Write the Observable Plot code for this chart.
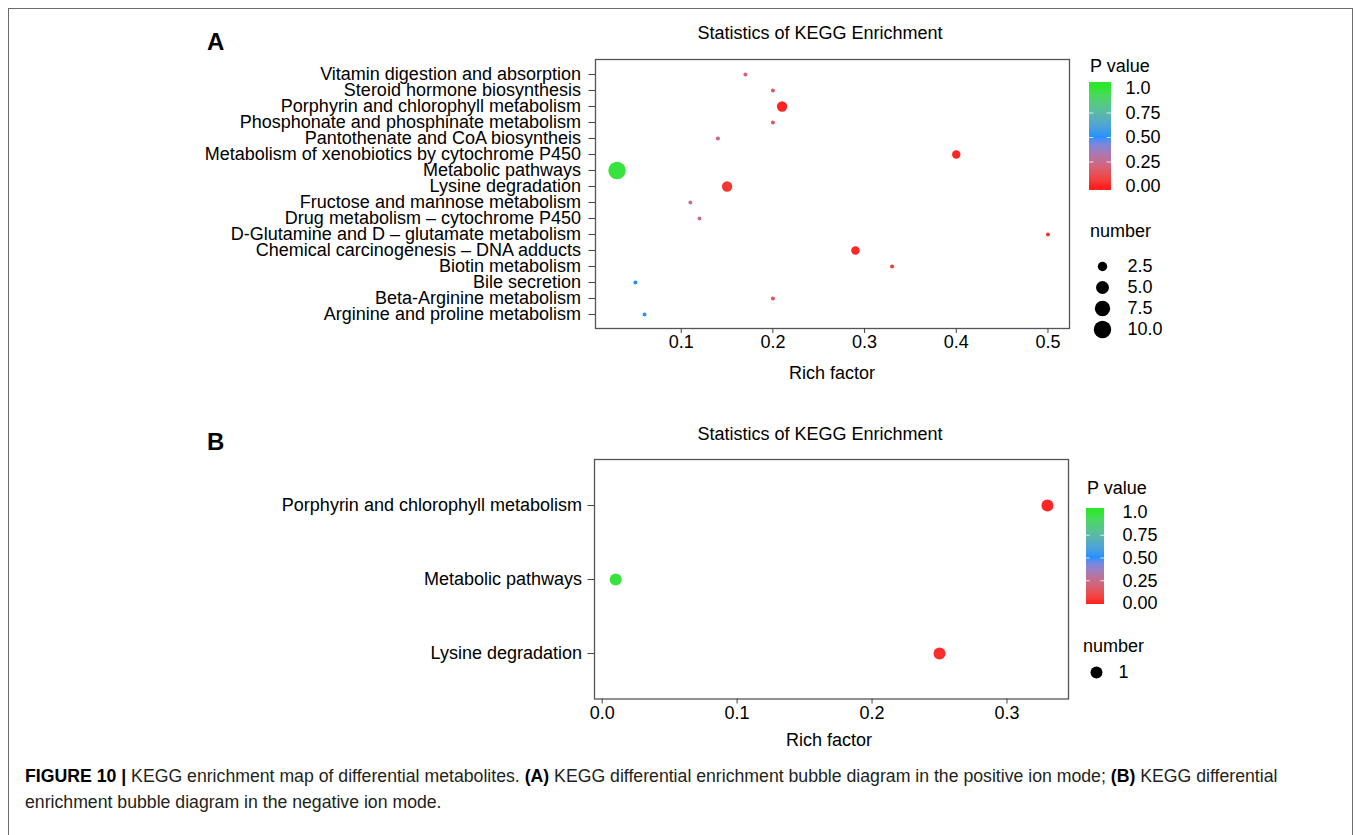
<!DOCTYPE html>
<html><head><meta charset="utf-8">
<script src="https://cdn.jsdelivr.net/npm/d3@7"></script>
<script src="https://cdn.jsdelivr.net/npm/@observablehq/plot@0.6"></script>
<style>
html,body{margin:0;padding:0;background:#fff;}
#page{position:relative;width:1355px;height:835px;overflow:hidden;font-family:"Liberation Sans",Arial,sans-serif;color:#000;}
.abs{position:absolute;white-space:nowrap;line-height:1;}
#frame{position:absolute;left:8px;top:8px;width:1345px;height:900px;border:1.5px solid #6b6b6b;box-sizing:border-box;pointer-events:none;}
#page svg{position:absolute;}
</style></head><body><div id="page"></div>
<script>
// ---------- data ----------
const categoriesA = [
  "Vitamin digestion and absorption",
  "Steroid hormone biosynthesis",
  "Porphyrin and chlorophyll metabolism",
  "Phosphonate and phosphinate metabolism",
  "Pantothenate and CoA biosyntheis",
  "Metabolism of xenobiotics by cytochrome P450",
  "Metabolic pathways",
  "Lysine degradation",
  "Fructose and mannose metabolism",
  "Drug metabolism \u2013 cytochrome P450",
  "D-Glutamine and D \u2013 glutamate metabolism",
  "Chemical carcinogenesis \u2013 DNA adducts",
  "Biotin metabolism",
  "Bile secretion",
  "Beta-Arginine metabolism",
  "Arginine and proline metabolism"
];
const richA   = [0.17, 0.20, 0.21, 0.20, 0.14, 0.40, 0.03, 0.15, 0.11, 0.12, 0.50, 0.29, 0.33, 0.05, 0.20, 0.06];
const pValueA = [0.20, 0.15, 0.01, 0.15, 0.22, 0.01, 0.98, 0.04, 0.30, 0.27, 0.03, 0.01, 0.06, 0.50, 0.12, 0.52];
const numberA = [1, 1, 3, 1, 1, 2, 10, 3, 1, 1, 1, 2, 1, 1, 1, 1];

const categoriesB = ["Porphyrin and chlorophyll metabolism", "Metabolic pathways", "Lysine degradation"];
const richB   = [0.33, 0.01, 0.25];
const pValueB = [0.01, 0.98, 0.02];
const numberB = [1, 1, 1];

const xTicksA = [0.1, 0.2, 0.3, 0.4, 0.5];
const xTicksB = [0.0, 0.1, 0.2, 0.3];
const pBreaks = [0, 0.25, 0.5, 0.75, 1.0];
const pLabels = ["0.00", "0.25", "0.50", "0.75", "1.0"];
const sizeBreaksA = [2.5, 5.0, 7.5, 10.0];
const sizeLabelsA = ["2.5", "5.0", "7.5", "10.0"];
const sizeBreaksB = [1];
const sizeLabelsB = ["1"];

const titleText = "Statistics of KEGG Enrichment";
const xLabel = "Rich factor";

// ---------- styling ----------
const FONT = "Liberation Sans, Arial, sans-serif";
const colorOpts = {type: "linear", domain: [0, 0.5, 1], range: ["#ff1f1f", "#1e90ff", "#2ee62e"], interpolate: "lab", clamp: true};
const rOptsA = {type: "linear", transform: n => Math.sqrt(Math.max(0, n - 1) / 9), domain: [0, 1], range: [2.0, 8.7]};
const rOptsB = {type: "linear", domain: [0, 1], range: [0, 6]};

const page = document.getElementById("page");

function addText(txt, x, y, {size = 18, weight = "normal", anchor = "start", color = "#000"} = {}) {
  const d = document.createElement("div");
  d.className = "abs";
  d.textContent = txt;
  d.style.left = x + "px";
  d.style.top = y + "px";
  d.style.fontSize = size + "px";
  d.style.fontWeight = weight;
  d.style.color = color;
  d.style.transform = anchor === "middle" ? "translate(-50%,-50%)" : "translate(0,-50%)";
  page.appendChild(d);
  return d;
}

function place(svg, left, top) {
  svg.style.left = left + "px";
  svg.style.top = top + "px";
  svg.style.background = "transparent";
  svg.style.maxWidth = "none";
  svg.style.overflow = "visible";
  page.appendChild(svg);
}

function panel({cats, rich, p, num, top, width, height, mt, mb, ml, mr, xDomain, xTicks, rOpts, fontSize, tickPadY}) {
  const data = cats.map((c, i) => ({cat: c, rich: rich[i], p: p[i], n: num[i]}));
  const chart = Plot.plot({
    width, height, marginTop: mt, marginBottom: mb, marginLeft: ml, marginRight: mr,
    style: {fontFamily: FONT, fontSize: fontSize + "px", color: "#000", background: "transparent"},
    x: {domain: xDomain},
    y: {type: "point", domain: cats, padding: 0.6},
    color: colorOpts,
    r: rOpts,
    marks: [
      Plot.frame({stroke: "#555", strokeWidth: 1.3}),
      Plot.axisY({tickSize: 6.5, tickPadding: tickPadY, fontSize, label: null, stroke: "#444", fill: "#000"}),
      Plot.axisX({ticks: xTicks, tickFormat: d3.format(".1f"), tickSize: 5, tickPadding: 2, fontSize, label: null, stroke: "#444", fill: "#000"}),
      Plot.dot(data, {x: "rich", y: "cat", r: "n", fill: "p"})
    ]
  });
  place(chart, 0, top);
}

function colorbar({left, top, w, h, y0, y1, labelDx, fontSize}) {
  const v = px => (px - y0) / (y1 - y0);
  const vBottom = v(h), vTop = v(0);
  const n = Math.round(h);
  const bins = d3.range(n).map(i => ({a: vBottom + (vTop - vBottom) * i / n, b: vBottom + (vTop - vBottom) * (i + 1.2) / n}));
  const inner = pBreaks.slice(1, -1);
  const chart = Plot.plot({
    width: w + 70, height: h, marginTop: 0, marginBottom: 0, marginLeft: 0, marginRight: 70,
    style: {fontFamily: FONT, fontSize: fontSize + "px", color: "#000", background: "transparent"},
    x: {domain: [0, 1], range: [0, w], axis: null},
    y: {domain: [0, 1], range: [y0, y1], axis: null},
    color: colorOpts,
    marks: [
      Plot.rect(bins, {x1: 0, x2: 1, y1: "a", y2: "b", fill: d => (d.a + d.b) / 2, shapeRendering: "crispEdges"}),
      Plot.ruleY(inner, {x1: 0, x2: 0.2, stroke: "white", strokeOpacity: 0.8}),
      Plot.ruleY(inner, {x1: 0.8, x2: 1, stroke: "white", strokeOpacity: 0.8}),
      Plot.text(pBreaks, {x: 1, y: d => d, text: (d, i) => pLabels[i], textAnchor: "start", dx: labelDx, fontSize, fill: "#000"})
    ]
  });
  place(chart, left, top);
}

function sizeLegend({left, top, breaks, labels, yA, yB, xDot, labelDx, rOpts, fontSize}) {
  const chart = Plot.plot({
    width: 120, height: Math.max(yA, yB) + 20, marginTop: 0, marginBottom: 0, marginLeft: 0, marginRight: 0,
    style: {fontFamily: FONT, fontSize: fontSize + "px", color: "#000", background: "transparent"},
    x: {domain: [0, 1], range: [xDot, xDot + 10], axis: null},
    y: {type: "point", domain: breaks, range: [yA, yB], padding: 0, axis: null},
    r: rOpts,
    marks: [
      Plot.dot(breaks, {x: 0, y: d => d, r: d => d, fill: "black", sort: null}),
      Plot.text(breaks, {x: 0, y: d => d, text: (d, i) => labels[i], textAnchor: "start", dx: labelDx, fontSize, fill: "#000"})
    ]
  });
  place(chart, left, top);
}

// ---------- panel A ----------
panel({cats: categoriesA, rich: richA, p: pValueA, num: numberA, top: 0, width: 1075, height: 400,
  mt: 59, mb: 72, ml: 595, mr: 6, xDomain: [0.0065, 0.5235], xTicks: xTicksA, rOpts: rOptsA, fontSize: 18, tickPadY: 8});
addText("A", 207, 41.5, {size: 24, weight: "bold"});
addText(titleText, 820, 33, {size: 18, anchor: "middle"});
addText(xLabel, 832, 373, {size: 18, anchor: "middle"});
addText("P value", 1090, 66, {size: 18});
colorbar({left: 1089, top: 82, w: 22, h: 108, y0: 104, y1: 6, labelDx: 14, fontSize: 18});
addText("number", 1090, 231, {size: 18});
sizeLegend({left: 1080, top: 250, breaks: sizeBreaksA, labels: sizeLabelsA, yA: 15, yB: 80, xDot: 22, labelDx: 25, rOpts: rOptsA, fontSize: 18});

// ---------- panel B ----------
panel({cats: categoriesB, rich: richB, p: pValueB, num: numberB, top: 400, width: 1075, height: 360,
  mt: 59, mb: 61.5, ml: 594, mr: 7, xDomain: [-0.0057, 0.3456], xTicks: xTicksB, rOpts: rOptsB, fontSize: 18, tickPadY: 6});
addText("B", 207, 441.5, {size: 24, weight: "bold"});
addText(titleText, 820, 433.5, {size: 18, anchor: "middle"});
addText(xLabel, 829, 740, {size: 18, anchor: "middle"});
addText("P value", 1087, 488, {size: 18});
colorbar({left: 1086, top: 508, w: 18, h: 96, y0: 95, y1: 4, labelDx: 18, fontSize: 18});
addText("number", 1083, 646, {size: 18});
sizeLegend({left: 1080, top: 650, breaks: sizeBreaksB, labels: sizeLabelsB, yA: 22, yB: 22, xDot: 16, labelDx: 22, rOpts: rOptsB, fontSize: 18});

// ---------- caption ----------
const cap = document.createElement("div");
cap.className = "abs";
cap.style.left = "25px";
cap.style.top = "764px";
cap.style.color = "#231f20";
cap.style.lineHeight = "1.45";
const line1 = document.createElement("span");
line1.innerHTML = "<b style='color:#000'>FIGURE 10 |</b> KEGG enrichment map of differential metabolites. <b style='color:#000'>(A)</b> KEGG differential enrichment bubble diagram in the positive ion mode; <b style='color:#000'>(B)</b> KEGG differential";
const line2 = document.createElement("span");
line2.textContent = "enrichment bubble diagram in the negative ion mode.";
cap.appendChild(line1);
cap.appendChild(document.createElement("br"));
cap.appendChild(line2);
cap.style.fontSize = "17px";
page.appendChild(cap);
const w1 = line1.getBoundingClientRect().width;
cap.style.fontSize = (17 * 1253 / w1).toFixed(2) + "px";

const frame = document.createElement("div");
frame.id = "frame";
page.appendChild(frame);
</script>
</body></html>
